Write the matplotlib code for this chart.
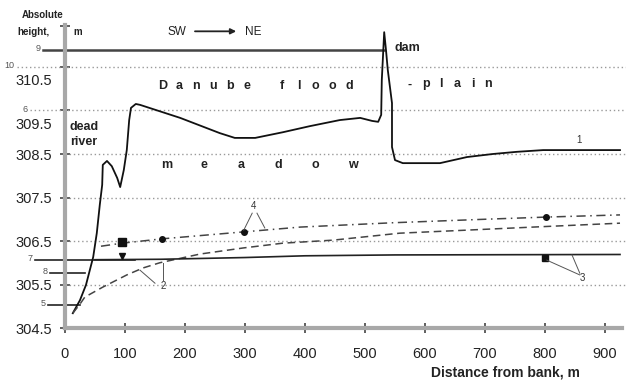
import numpy as np
import matplotlib.pyplot as plt
from matplotlib.transforms import ScaledTranslation

plt.rcParams['font.family'] = ['Liberation Sans', 'DejaVu Sans']

# profile of the ground surface (curve 1)
x1 = [13, 25, 35, 47, 53, 58, 62, 63, 70, 78, 87, 92, 98, 103, 107, 110, 118, 125,
      192, 258, 283, 317, 363, 408, 458, 492, 512, 522, 527, 528, 532, 535, 538,
      545, 545, 550, 563, 625, 670, 713, 753, 797, 925]
y1 = [304.84, 305.14, 305.49, 306.13, 306.68, 307.33, 307.79, 308.25, 308.34, 308.22,
      307.95, 307.74, 308.13, 308.59, 309.28, 309.56, 309.65, 309.63,
      309.33, 308.98, 308.87, 308.87, 309.0, 309.14, 309.28, 309.33, 309.26, 309.24,
      309.4, 310.2, 311.3, 310.89, 310.43, 309.67, 308.66, 308.36, 308.29, 308.29,
      308.43, 308.5, 308.55, 308.59, 308.59]

# curve 2 (dashed)
x2 = [13, 25, 33, 63, 103, 130, 158, 225, 297, 363, 447, 558, 670, 780, 925]
y2 = [304.84, 305.05, 305.21, 305.44, 305.72, 305.88, 306.0, 306.2, 306.34, 306.45,
      306.52, 306.68, 306.75, 306.82, 306.91]

# curve 3 (solid)
x3 = [50, 160, 300, 400, 550, 925]
y3 = [306.07, 306.08, 306.12, 306.16, 306.18, 306.19]
x3_pts = [95, 800]
y3_pts = [306.16, 306.12]

# curve 4 (dash-dot)
x4 = [60, 95, 162, 298, 392, 547, 700, 802, 925]
y4 = [306.38, 306.45, 306.55, 306.71, 306.82, 306.92, 307.0, 307.05, 307.1]
x4_sq = [95]
y4_sq = [306.47]
x4_dots = [162, 298, 802]
y4_dots = [306.55, 306.71, 307.05]

# marked levels at the left
lvl_names = ['9', '10', '6', '7', '8', '5']
lvl_y = [310.9, 310.5, 309.5, 306.07, 305.76, 305.04]
lvl_x0 = [-37, -80, -58, -50, -25, -28]
lvl_x1 = [532, 935, 935, 117, 33, 25]

grid_y = [305.5, 306.5, 307.5, 308.5]
xticks = [0, 100, 200, 300, 400, 500, 600, 700, 800, 900]
yticks = [304.5, 305.5, 306.5, 307.5, 308.5, 309.5, 310.5]

fig = plt.figure(figsize=(6.26, 3.85), dpi=100)
ax = fig.add_axes([0, 0, 1, 1])
ax.set_xlim(-108.3, 935)
ax.set_ylim(303.19, 312.04)

for s in ['top', 'right']:
    ax.spines[s].set_visible(False)
ax.spines['left'].set_position(('data', 0))
ax.spines['bottom'].set_position(('data', 304.5))
ax.spines['left'].set_bounds(304.5, 311.47)
ax.spines['bottom'].set_bounds(0, 928)
for s in ['left', 'bottom']:
    ax.spines[s].set_linewidth(3)
    ax.spines[s].set_color('#a8a8a8')

ax.set_xticks(xticks)
ax.set_yticks(yticks)
ax.set_yticks([311.45], minor=True)
ax.tick_params(direction='inout', length=7, width=1.2, color='#444444',
               labelsize=10.5, labelcolor='#222222')
ax.tick_params(axis='x', pad=10)
ax.tick_params(axis='y', pad=6)
ax.tick_params(axis='y', which='minor', direction='inout', length=7, width=1.2,
               color='#444444')
# upper height labels sit a little below their lines in the original
fig.canvas.draw()
for lab in ax.get_yticklabels():
    if lab.get_text() in ('309.5', '310.5'):
        lab.set_transform(lab.get_transform() +
                          ScaledTranslation(0, -0.13, fig.dpi_scale_trans))

# dotted grid lines
for g in grid_y:
    ax.plot([0, 935], [g, g], ls=(0, (1, 2)), color='#999999', lw=1)

# level lines
for name, y, xa, xb in zip(lvl_names, lvl_y, lvl_x0, lvl_x1):
    if name in ('10', '6'):
        ax.plot([xa, xb], [y, y], ls=(0, (1, 2)), color='#999999', lw=1)
    elif name == '9':
        ax.plot([xa, xb], [y, y], color='#444444', lw=1.8)
    else:
        ax.plot([xa, xb], [y, y], color='#222222', lw=1.2)
    ax.text(xa - 4, y + 0.03, name, fontsize=6.5, color='#555555', ha='right', va='center')

ax.plot(x1, y1, color='#111111', lw=1.3)
ax.plot(x2, y2, color='#444444', lw=1.1, ls=(0, (5, 3)))
ax.plot(x3, y3, color='#222222', lw=1.2)
ax.plot(x4, y4, color='#444444', lw=1.1, ls=(0, (6, 3, 1, 3)))
ax.plot(x3_pts[:1], y3_pts[:1], 'v', color='#111111', ms=4)
ax.plot(x3_pts[1:], y3_pts[1:], 's', color='#111111', ms=5)
ax.plot(x4_sq, y4_sq, 's', color='#111111', ms=5.5)
ax.plot(x4_dots, y4_dots, 'o', color='#111111', ms=4)

# curve labels with leaders
lead = dict(color='#555555', lw=0.7)
ax.text(857, 308.82, '1', fontsize=7, ha='center', va='center', color='#333333')
ax.text(163, 305.47, '2', fontsize=7, ha='center', va='center', color='#333333')
ax.plot([150, 125], [305.53, 305.83], **lead)
ax.plot([163, 163], [305.6, 306.0], **lead)
ax.text(863, 305.65, '3', fontsize=7, ha='center', va='center', color='#333333')
ax.plot([803, 858], [306.06, 305.72], **lead)
ax.plot([845, 858], [306.18, 305.76], **lead)
ax.text(315, 307.3, '4', fontsize=7, ha='center', va='center', color='#333333')
ax.plot([312, 298], [307.14, 306.75], **lead)
ax.plot([320, 333], [307.14, 306.8], **lead)


def spread(word, x0, step, y):
    # letter-spaced caption, one glyph at a time
    for i, ch in enumerate(word):
        ax.text(x0 + i * step, y, ch, ha='center', va='center', fontsize=9,
                fontweight='bold', color='#222222')


spread('Danube', 163, 28, 310.06)
spread('flood', 362, 28, 310.06)
spread('-plain', 575, 26, 310.1)
spread('meadow', 170, 62, 308.25)

tk = dict(fontsize=9, fontweight='bold', color='#222222')
ax.text(8, 309.12, 'dead', va='center', **tk)
ax.text(8, 308.77, 'river', va='center', **tk)
ax.text(550, 310.94, 'dam', va='center', **tk)
ax.text(187, 311.3, 'SW', ha='center', va='center', fontsize=8.5, color='#222222')
ax.annotate('', xy=(290, 311.32), xytext=(212, 311.32),
            arrowprops=dict(arrowstyle='-|>', color='#222222', lw=1.3, mutation_scale=8))
ax.text(313, 311.3, 'NE', ha='center', va='center', fontsize=8.5, color='#222222')
ax.text(-38, 311.7, 'Absolute', ha='center', va='center', fontsize=7, fontweight='bold',
        color='#222222')
ax.text(-53, 311.31, 'height,', ha='center', va='center', fontsize=7, fontweight='bold',
        color='#222222')
ax.text(22, 311.31, 'm', ha='center', va='center', fontsize=7, fontweight='bold',
        color='#222222')
ax.text(858, 303.47, 'Distance from bank, m', ha='right', va='center', fontsize=10,
        fontweight='bold', color='#222222')

fig.savefig('out.png', dpi=100)
